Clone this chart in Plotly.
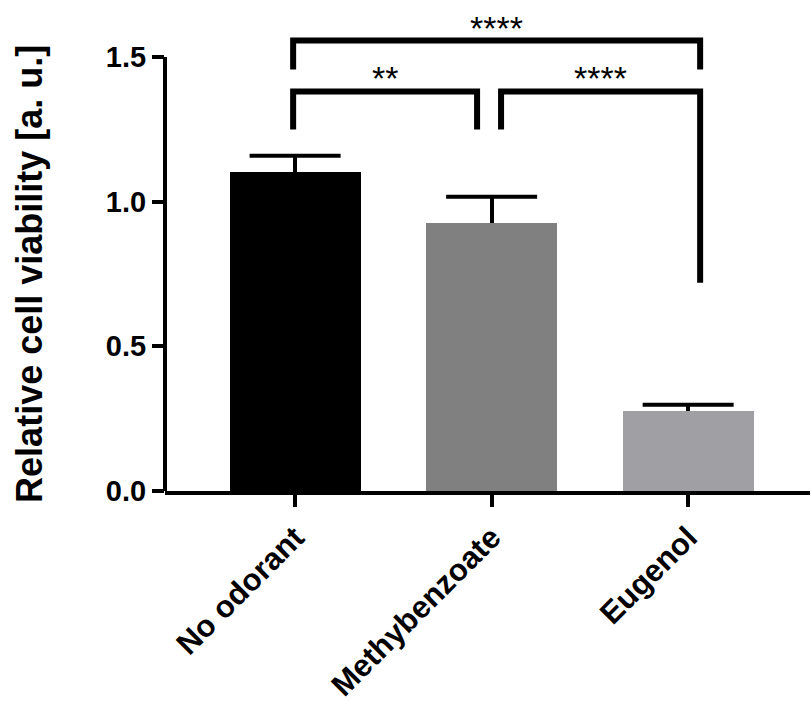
import plotly.graph_objects as go

# Groups and measured relative viability (mean + upper SD)
groups = ["No odorant", "Methybenzoate", "Eugenol"]
viability = [1.104, 0.927, 0.277]
viability_sd = [0.055, 0.090, 0.021]
bar_colors = ["#000000", "#808080", "#a0a0a4"]

# Significance brackets: left x, right x, bar height, left-leg end, right-leg end, label
sig_left = [-0.010, -0.010, 1.048]
sig_right = [2.061, 0.926, 2.061]
sig_level = [1.557, 1.381, 1.381]
sig_left_end = [1.457, 1.249, 1.249]
sig_right_end = [1.457, 1.249, 0.720]
sig_label = ["****", "**", "****"]

y_ticks = [0.0, 0.5, 1.0, 1.5]
y_tick_text = ["0.0", "0.5", "1.0", "1.5"]

FONT = "Arial, Liberation Sans, Helvetica, sans-serif"
Y_MAX = 1.697  # headroom above the 1.5 axis end for the brackets

fig = go.Figure()

# bars with upward-only error stems
fig.add_trace(go.Bar(
    x=list(range(len(groups))),
    y=viability,
    width=0.667,
    marker=dict(color=bar_colors, line=dict(width=0)),
    error_y=dict(
        type="data",
        symmetric=False,
        array=viability_sd,
        arrayminus=[0] * len(viability_sd),
        color="#000000",
        thickness=4,
        width=0,
    ),
    showlegend=False,
    hoverinfo="skip",
))

# caps on the top of each error bar
fig.add_trace(go.Scatter(
    x=list(range(len(groups))),
    y=[m + s for m, s in zip(viability, viability_sd)],
    mode="markers",
    marker=dict(symbol="line-ew", size=65, color="#000000",
                line=dict(color="#000000", width=4)),
    cliponaxis=False,
    showlegend=False,
    hoverinfo="skip",
))

# significance brackets and their labels
for xl, xr, lvl, le, re, lab in zip(sig_left, sig_right, sig_level,
                                     sig_left_end, sig_right_end, sig_label):
    fig.add_trace(go.Scatter(
        x=[xl, xl, xr, xr],
        y=[le, lvl, lvl, re],
        mode="lines",
        line=dict(color="#000000", width=6),
        cliponaxis=False,
        showlegend=False,
        hoverinfo="skip",
    ))
    fig.add_annotation(
        x=(xl + xr) / 2, y=lvl,
        text=lab, showarrow=False,
        xanchor="center", yanchor="bottom", yshift=-8,
        font=dict(family=FONT, size=34, color="#000000"),
    )

# y-axis line stops at 1.5
fig.add_shape(
    type="line", xref="paper", yref="y",
    x0=0, x1=0, y0=0, y1=1.5,
    line=dict(color="#000000", width=4),
)

# y-axis title
fig.add_annotation(
    xref="paper", yref="y",
    x=-0.211, y=0.75,
    text="<b>Relative cell viability [a. u.]</b>",
    textangle=-90, showarrow=False,
    xanchor="center", yanchor="middle",
    font=dict(family=FONT, size=36, color="#000000"),
)

fig.update_layout(
    width=811, height=702,
    margin=dict(l=165, r=1, t=0, b=211, autoexpand=False),
    paper_bgcolor="white",
    plot_bgcolor="white",
    bargap=0,
    font=dict(family=FONT, color="#000000"),
)

fig.update_xaxes(
    range=[-0.662, 2.62],
    tickmode="array",
    tickvals=list(range(len(groups))),
    ticktext=[f"<b>{g}</b>" for g in groups],
    tickangle=-45,
    tickfont=dict(family=FONT, size=31, color="#000000"),
    ticks="outside", ticklen=12, tickwidth=4, tickcolor="#000000",
    showline=True, linewidth=4, linecolor="#000000",
    showgrid=False, zeroline=False, automargin=False,
)

fig.update_yaxes(
    range=[0, Y_MAX],
    tickmode="array",
    tickvals=y_ticks,
    ticktext=[f"<b>{t}</b>" for t in y_tick_text],
    tickfont=dict(family=FONT, size=29, color="#000000"),
    ticks="outside", ticklen=12, tickwidth=4, tickcolor="#000000",
    showline=False,
    showgrid=False, zeroline=False, automargin=False,
)

fig.write_html("out.html")
